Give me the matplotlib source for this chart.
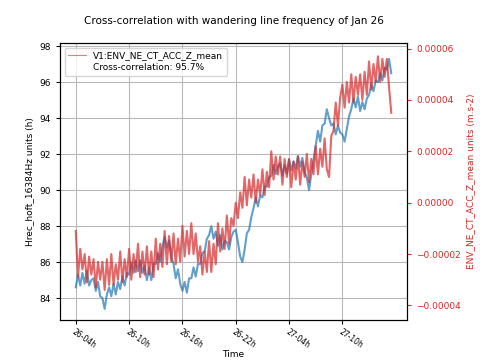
import matplotlib
matplotlib.use("Agg")
import matplotlib.pyplot as plt
import matplotlib.dates as mdates
from matplotlib.lines import Line2D
from matplotlib.ticker import FuncFormatter, MultipleLocator, FixedLocator
import numpy as np
import pandas as pd

# Left-axis series (Hrec_hoft), sampled every 15 minutes from Jan 26 04:00
hrec_values = [
    84.6, 85.3, 84.7, 85.4, 84.8, 85.5, 84.7, 85.0, 85.1, 84.4, 84.9, 84.1,
    84.0, 83.4, 84.2, 84.6, 84.1, 84.8, 84.2, 84.9, 84.5, 85.2, 84.7, 85.4,
    85.3, 86.0, 85.4, 86.1, 85.5, 86.1, 85.4, 85.8, 85.0, 85.7, 85.0, 85.9,
    85.9, 86.5, 86.0, 86.9, 87.4, 86.8, 87.2, 86.3, 85.9, 85.1, 85.6, 84.8,
    84.4, 84.9, 84.3, 85.1, 85.1, 85.7, 85.2, 85.9, 85.9, 86.5, 86.6, 87.3,
    87.5, 88.0, 87.3, 87.7, 86.9, 87.5, 86.7, 87.2, 87.1, 86.7, 87.4, 87.7,
    87.8, 87.1, 86.3, 86.0, 86.7, 87.6, 87.8, 88.5, 89.0, 89.6, 89.1, 89.7,
    89.6, 90.2, 90.2, 90.7, 90.8, 91.4, 90.9, 91.3, 91.5, 90.8, 91.4, 90.9,
    91.7, 91.1, 91.6, 91.2, 91.9, 91.3, 91.8, 91.0, 90.7, 90.0, 90.9, 91.7,
    92.5, 93.3, 92.7, 93.6, 93.7, 94.5, 94.0, 93.6, 93.7, 93.1, 93.6, 93.2,
    93.1, 92.7, 93.4, 94.1, 94.5, 95.1, 94.6, 95.2, 94.4, 94.9, 94.5, 95.1,
    95.3, 95.9, 95.5, 96.1, 96.0, 96.5, 96.1, 96.8, 96.7, 97.3, 96.5,
]

# Right-axis series (ENV_NE_CT_ACC_Z_mean), in units of 1e-5 m.s-2
acc_values_e5 = [
    -1.1, -2.9, -1.8, -2.6, -2.0, -3.1, -2.1, -2.8, -2.2, -3.3, -2.3, -3.0,
    -2.3, -3.4, -2.2, -3.2, -2.0, -3.2, -2.4, -3.0, -1.9, -3.1, -2.2, -2.9,
    -1.8, -3.0, -2.0, -2.7, -1.6, -2.9, -1.9, -2.8, -1.7, -2.8, -1.9, -2.9,
    -1.4, -2.6, -1.6, -2.5, -1.1, -2.4, -1.3, -2.3, -1.2, -2.4, -1.4, -2.3,
    -0.9, -2.1, -1.1, -2.0, -0.8, -2.0, -1.2, -2.3, -1.7, -2.8, -1.9, -2.7,
    -1.5, -2.7, -1.6, -2.4, -0.8, -1.9, -1.0, -1.8, -0.5, -1.6, -0.6, -0.9,
    0.0, -0.6, 0.4, -0.2, 1.0, -0.1, 0.9, 0.2, 1.1, 0.0, 0.9, 0.3,
    1.3, 0.3, 1.2, 0.6, 2.0, 0.9, 1.8, 1.1, 1.8, 0.7, 1.7, 1.0,
    1.7, 0.6, 1.6, 0.9, 1.8, 0.7, 1.6, 1.0, 1.9, 0.8, 1.7, 1.1,
    2.2, 1.1, 2.1, 1.4, 2.5, 1.3, 1.0, 2.6, 2.8, 3.9, 3.0, 4.1,
    4.6, 3.7, 4.7, 3.9, 5.0, 3.9, 4.9, 4.2, 5.0, 4.0, 5.1, 4.2,
    5.5, 4.4, 5.4, 4.7, 5.7, 4.7, 5.6, 4.9, 5.6, 4.5, 3.5,
]

tick_labels_at = ["2021-01-26 04:00", "2021-01-26 10:00", "2021-01-26 16:00",
                  "2021-01-26 22:00", "2021-01-27 04:00", "2021-01-27 10:00"]
start_time = "2021-01-26 04:00"
sample_step = "15min"
title = "Cross-correlation with wandering line frequency of Jan 26"
left_label = "Hrec_hoft_16384Hz units (h)"
right_label = "ENV_NE_CT_ACC_Z_mean units (m.s-2)"
legend_label = "V1:ENV_NE_CT_ACC_Z_mean"
corr_label = "Cross-correlation: 95.7%"

times = pd.date_range(start_time, periods=len(hrec_values), freq=sample_step)
acc_values = np.array(acc_values_e5) * 1e-5

plt.rcParams['font.family'] = ['DejaVu Sans']
fig = plt.figure(figsize=(4.8, 3.6), dpi=100)
ax = fig.add_axes([0.125, 0.111, 0.723, 0.769])
ax2 = ax.twinx()

ax.plot(times, hrec_values, color='#1f77b4', alpha=0.7, lw=1.5)
ax2.plot(times, acc_values, color='#d62728', alpha=0.7, lw=1.5)

ax.set_ylim(82.78, 98.17)
ax.yaxis.set_major_locator(MultipleLocator(2))
ax2.set_ylim(-4.57e-5, 6.21e-5)
ax2.yaxis.set_major_locator(MultipleLocator(2e-5))
ax2.yaxis.set_major_formatter(FuncFormatter(
    lambda v, p: f"{v:.5f}".replace('-', '\u2212') if abs(v) > 1e-12 else "0.00000"))

tick_dates = pd.to_datetime(tick_labels_at)
ax.xaxis.set_major_locator(FixedLocator(mdates.date2num(tick_dates)))
ax.xaxis.set_major_formatter(mdates.DateFormatter('%d-%Hh'))
for lbl in ax.get_xticklabels():
    lbl.set_rotation(-35)
    lbl.set_ha('left')
    lbl.set_rotation_mode('anchor')

ax.grid(True, color='#b8b8b8', lw=0.8)
ax.set_axisbelow(True)

ax.tick_params(axis='y', labelsize=6.5, length=3)
ax.tick_params(axis='x', labelsize=5.5, length=3, pad=2)
ax2.tick_params(axis='y', colors='#d62728', labelsize=6.5, length=3)
ax.set_xlabel("Time", fontsize=6.5, labelpad=0)
ax.set_ylabel(left_label, fontsize=6.5)
ax2.set_ylabel(right_label, fontsize=6.5, color='#d62728')
ax.set_title(title, fontsize=7.5, pad=14)

handles = [Line2D([], [], color='#d62728', alpha=0.6, lw=0.8),
           Line2D([], [], color='none')]
ax.legend(handles, [legend_label, corr_label], loc='upper left', fontsize=6.5,
          handlelength=2, labelspacing=0.3, framealpha=0.8)

fig.savefig("out.png", dpi=100)
